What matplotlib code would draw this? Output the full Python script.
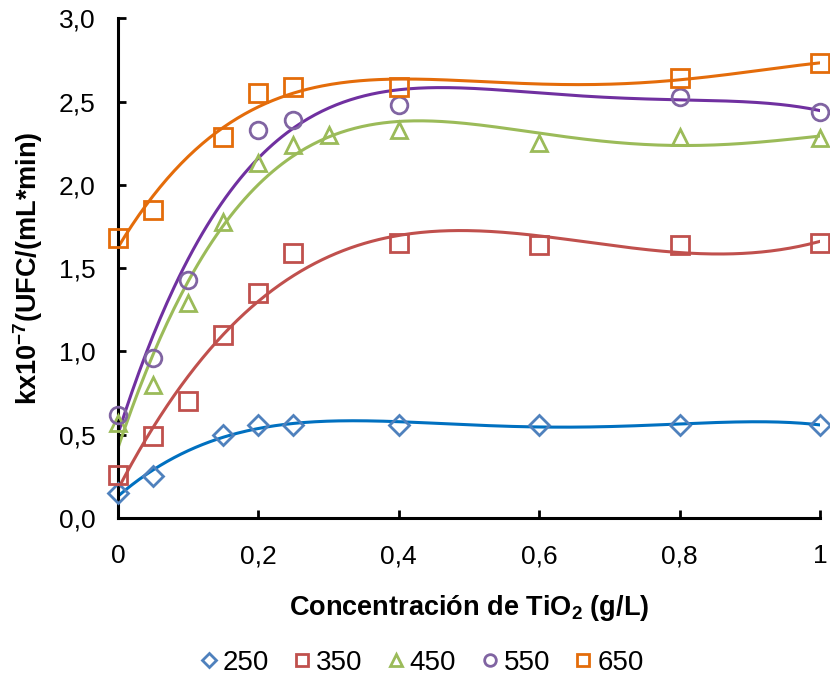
import numpy as np
import matplotlib.pyplot as plt

plt.rcParams['font.family'] = ['Liberation Sans', 'DejaVu Sans']
plt.rcParams['mathtext.fontset'] = 'custom'
plt.rcParams['mathtext.rm'] = 'Liberation Sans'
plt.rcParams['mathtext.bf'] = 'Liberation Sans:bold'

## datos
conc_250 = [0, 0.05, 0.15, 0.2, 0.25, 0.4, 0.6, 0.8, 1.0]
k_250 = [0.15, 0.25, 0.50, 0.56, 0.56, 0.56, 0.56, 0.56, 0.56]

conc_350 = [0, 0.05, 0.1, 0.15, 0.2, 0.25, 0.4, 0.6, 0.8, 1.0]
k_350 = [0.26, 0.49, 0.70, 1.10, 1.35, 1.59, 1.65, 1.64, 1.64, 1.65]

conc_450 = [0, 0.05, 0.1, 0.15, 0.2, 0.25, 0.3, 0.4, 0.6, 0.8, 1.0]
k_450 = [0.57, 0.80, 1.29, 1.78, 2.13, 2.24, 2.30, 2.33, 2.25, 2.29, 2.28]

conc_550 = [0, 0.05, 0.1, 0.2, 0.25, 0.4, 0.8, 1.0]
k_550 = [0.62, 0.96, 1.43, 2.33, 2.39, 2.48, 2.53, 2.44]

conc_650 = [0, 0.05, 0.15, 0.2, 0.25, 0.4, 0.8, 1.0]
k_650 = [1.68, 1.85, 2.29, 2.55, 2.59, 2.59, 2.64, 2.73]

labels = ['250', '350', '450', '550', '650']
markers = ['D', 's', '^', 'o', 's']
marker_colors = ['#4F81BD', '#C0504D', '#9BBB59', '#8064A2', '#E46C0A']
line_colors = ['#0070C0', '#C0504D', '#9BBB59', '#7030A0', '#E46C0A']
marker_sizes = [10, 13, 12, 12, 13]
fit_degree = [5, 4, 4, 4, 4]

series_x = [conc_250, conc_350, conc_450, conc_550, conc_650]
series_y = [k_250, k_350, k_450, k_550, k_650]

fig = plt.figure(figsize=(8.3, 6.79), dpi=100)
ax = fig.add_axes([0.142, 0.237, 0.846, 0.736])

xs = np.linspace(0, 1, 300)
handles = []
for i in range(5):
    # linea de tendencia polinomica
    coef = np.polyfit(series_x[i], series_y[i], fit_degree[i])
    ax.plot(xs, np.polyval(coef, xs), color=line_colors[i], lw=2.2, zorder=2)
    h, = ax.plot(series_x[i], series_y[i], linestyle='none', marker=markers[i],
                 markersize=marker_sizes[i], markerfacecolor='none',
                 markeredgecolor=marker_colors[i], markeredgewidth=2.0,
                 label=labels[i], zorder=3, clip_on=False)
    handles.append(h)

ax.set_xlim(0, 1)
ax.set_ylim(0, 3.0)
ax.set_xticks([0, 0.2, 0.4, 0.6, 0.8, 1.0])
ax.set_xticklabels(['0', '0,2', '0,4', '0,6', '0,8', '1'])
ax.set_yticks([0, 0.5, 1.0, 1.5, 2.0, 2.5, 3.0])
ax.set_yticklabels(['0,0', '0,5', '1,0', '1,5', '2,0', '2,5', '3,0'])
ax.tick_params(direction='in', length=6, width=2, labelsize=19)
ax.tick_params(axis='x', pad=19)
ax.tick_params(axis='y', pad=16)
for s in ['top', 'right']:
    ax.spines[s].set_visible(False)
for s in ['left', 'bottom']:
    ax.spines[s].set_linewidth(2.2)

ax.set_xlabel('Concentración de TiO$_\\mathbf{2}$ (g/L)', fontsize=19.5, fontweight='bold', labelpad=18)
ax.set_ylabel('kx10$^{\\mathbf{-7}}$(UFC/(mL*min)', fontsize=19.5, fontweight='bold', labelpad=10)

fig.legend(handles=handles, loc='center', bbox_to_anchor=(0.505, 0.024), ncol=5,
           frameon=False, fontsize=20, handletextpad=0.0, columnspacing=0.7,
           handlelength=1.0, markerscale=0.7)

fig.savefig('out.png')
